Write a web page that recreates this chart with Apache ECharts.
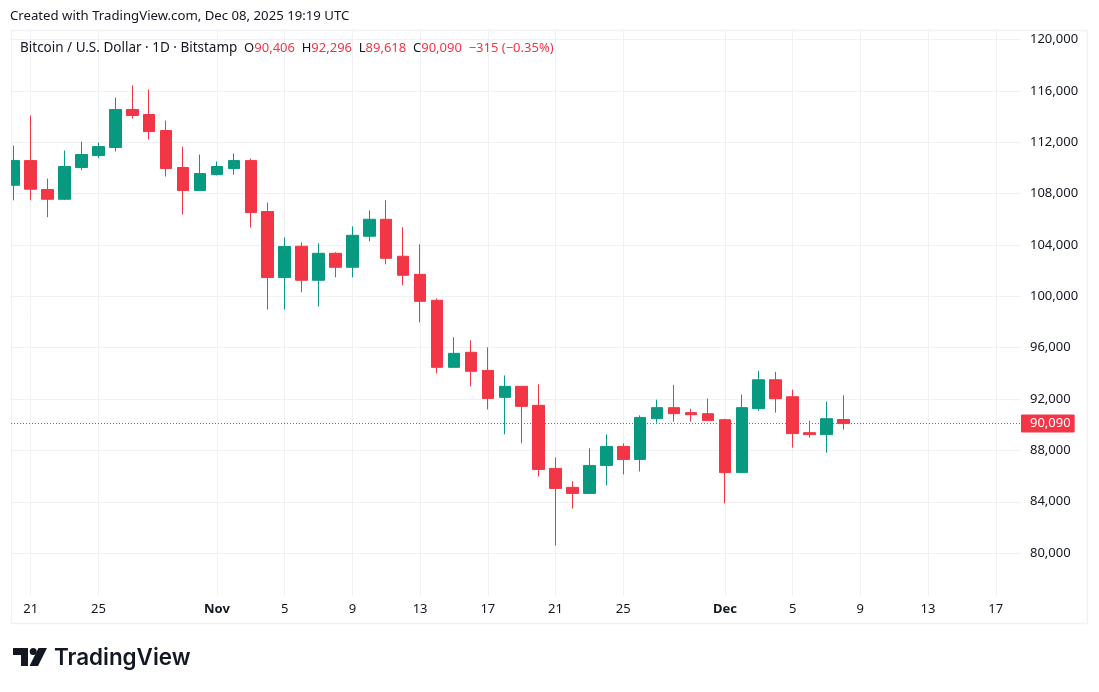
<!DOCTYPE html>
<html>
<head>
<meta charset="utf-8">
<style>
html, body { margin: 0; padding: 0; background: #fff; }
#chart { width: 1099px; height: 692px; }
</style>
<script src="https://cdn.jsdelivr.net/npm/echarts@6/dist/echarts.min.js"></script>
</head>
<body>
<div id="chart"></div>
<script>
// days counted from Oct 20, one entry per candle
const days = [0,1,2,3,4,5,6,7,8,9,10,11,12,13,14,15,16,17,18,19,20,21,22,23,24,
    25,26,27,28,29,30,31,32,33,34,35,36,37,38,39,40,41,42,43,44,45,46,47,48,49];
const opens = [108650,110570,108320,107560,110030,110960,111590,114550,114160,112910,
    110030,108240,109480,109950,110570,106600,101460,103900,101250,103350,
    102260,104680,106000,103120,101710,99690,94470,95640,94230,92130,
    92990,91510,86600,85120,84650,86830,88310,87300,90470,91330,
    90940,90860,90390,86270,91250,93500,92180,89380,89230,90406];
const highs = [111740,114080,109170,111350,112050,111980,115480,116420,116100,113690,
    111660,111040,110500,111120,110730,107300,104580,104210,104130,103430,
    105450,106700,107480,105380,104050,99840,96810,96570,96030,93840,
    93000,93140,87450,85580,88160,89250,88550,90730,91950,93110,
    91250,92030,90470,92340,94200,94120,92730,90320,91790,92296];
const lows = [107480,107480,106160,107500,109820,110760,111280,113850,112210,109330,
    106370,108240,109410,109480,105360,98970,98970,100310,99220,101480,
    101480,104290,102490,100860,97970,94000,94470,92990,91190,89250,
    88550,85970,80600,83480,84650,85270,86130,86360,90160,90240,
    90240,90300,83870,86270,91090,90940,88220,89000,87830,89618];
const closes = [110570,108340,107560,110110,111040,111660,114550,114080,112830,109950,
    108240,109560,110110,110570,106520,101460,103880,101250,103350,102260,
    104750,106000,102960,101640,99610,94470,95560,94160,92050,92990,
    91430,86520,85040,84650,86830,88310,87300,90570,91330,90860,
    90780,90320,86270,91330,93500,92030,89310,89230,90470,90090];

const tickDays = [1,5,12,16,20,24,28,32,36,42,46,50,54,58];
const tickLabels = ['21','25','Nov','5','9','13','17','21','25','Dec','5','9','13','17'];
const priceTicks = [80000,84000,88000,92000,96000,100000,104000,108000,112000,116000,120000];
const lastPrice = 90090;

const fontName = '"Noto Sans", sans-serif';
const upColor = '#089981';
const downColor = '#f23645';
const textColor = '#131722';
const gridColor = '#f1f1f4';

const chart = echarts.init(document.getElementById('chart'));

function money(v) {
    return v.toLocaleString('en-US');
}

const options = {
    backgroundColor: '#fff',
    animation: false,
    textStyle: { fontFamily: fontName },
    title: [
        {
            text: 'Created with TradingView.com, Dec 08, 2025 19:19 UTC',
            left: 10, top: 10, padding: 0,
            textStyle: { fontFamily: fontName, fontSize: 13.2, fontWeight: 'normal', color: textColor }
        },
        {
            text: '{n|Bitcoin / U.S. Dollar · 1D · Bitstamp}  O{r|90,406}  H{r|92,296}  L{r|89,618}  C{r|90,090}  {r|−315 (−0.35%)}',
            left: 20, top: 41, padding: 0,
            textStyle: {
                fontFamily: fontName, fontSize: 13, fontWeight: 'normal', color: textColor,
                rich: {
                    n: { fontFamily: fontName, fontSize: 13.5, color: textColor },
                    r: { fontFamily: fontName, fontSize: 13, color: downColor }
                }
            }
        }
    ],
    grid: { left: 11, top: 29.5, width: 1010, height: 566 },
    xAxis: {
        type: 'value',
        min: -0.163,
        max: 59.49,
        axisLine: { show: false },
        axisTick: { show: false, customValues: tickDays },
        splitLine: { show: true, lineStyle: { color: gridColor, width: 1 } },
        axisLabel: {
            customValues: tickDays,
            margin: 7,
            color: textColor,
            fontSize: 13,
            fontFamily: fontName,
            formatter: v => {
                const label = tickLabels[tickDays.indexOf(v)];
                return isNaN(+label) ? '{b|' + label + '}' : label;
            },
            rich: { b: { fontWeight: 'bold', fontSize: 13, fontFamily: fontName, color: textColor } }
        }
    },
    yAxis: {
        type: 'value',
        position: 'right',
        min: 76700,
        max: 120780,
        axisLine: { show: false },
        axisTick: { show: false, customValues: priceTicks },
        splitLine: { show: true, lineStyle: { color: gridColor, width: 1 } },
        axisLabel: {
            customValues: priceTicks,
            margin: 9,
            color: textColor,
            fontSize: 13,
            fontFamily: fontName,
            formatter: money
        }
    },
    series: [{
        type: 'candlestick',
        barWidth: 12,
        encode: { x: 0, y: [1, 2, 3, 4] },
        itemStyle: {
            color: upColor,
            color0: downColor,
            borderColor: upColor,
            borderColor0: downColor,
            borderWidth: 1
        },
        data: days.map((d, i) => [d, opens[i], closes[i], lows[i], highs[i]]),
        markLine: {
            silent: true,
            symbol: 'none',
            animation: false,
            lineStyle: { color: downColor, type: [1, 2], width: 1 },
            label: {
                position: 'end',
                distance: 0,
                formatter: () => money(lastPrice),
                backgroundColor: downColor,
                color: '#fff',
                fontFamily: fontName,
                fontSize: 13,
                fontWeight: 'normal',
                borderRadius: 1,
                padding: [3, 4, 2, 9]
            },
            data: [{ yAxis: lastPrice }]
        }
    }],
    graphic: [
        {
            type: 'rect', silent: true, z: -1,
            shape: { x: 11.5, y: 30.5, width: 1076, height: 593 },
            style: { fill: 'none', stroke: gridColor, lineWidth: 1.5 }
        },
        // the oldest candle is cut off by the left edge of the pane
        {
            type: 'rect', silent: true, z: 100,
            shape: { x: 0, y: 31, width: 11, height: 592 },
            style: { fill: '#fff' }
        },
        // TradingView mark: bar, dot and slash
        { type: 'polygon', silent: true, shape: { points: [[13,648],[28,648],[28,666],[21,666],[21,655],[13,655]] }, style: { fill: textColor } },
        { type: 'circle', silent: true, shape: { cx: 33.2, cy: 651.5, r: 3.5 }, style: { fill: textColor } },
        { type: 'polygon', silent: true, shape: { points: [[38.5,648],[47,648],[38,666],[29.5,666]] }, style: { fill: textColor } },
        {
            type: 'text', silent: true,
            x: 54, y: 658,
            style: {
                text: 'TradingView',
                font: '600 22.4px Inter, sans-serif',
                fill: textColor,
                verticalAlign: 'middle'
            }
        }
    ]
};

chart.setOption(options);
</script>
</body>
</html>
